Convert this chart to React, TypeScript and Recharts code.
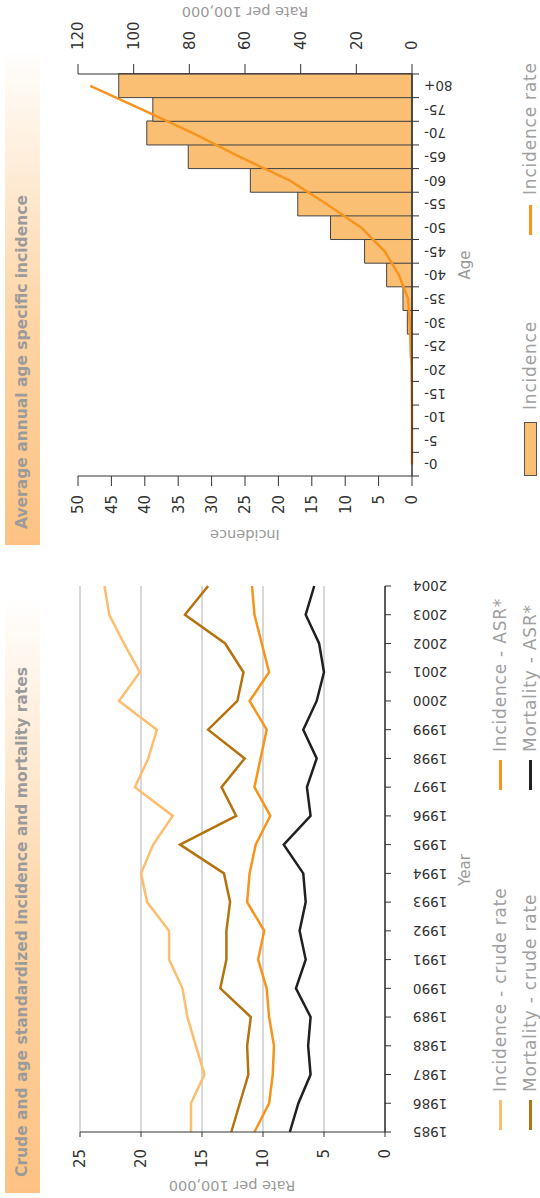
import React from 'react';
import { LineChart, Line, XAxis, YAxis, CartesianGrid, ComposedChart, Bar } from 'recharts';

const years = ['1985','1986','1987','1988','1989','1990','1991','1992','1993','1994','1995','1996','1997','1998','1999','2000','2001','2002','2003','2004'];
const incidenceCrude = [15.9, 15.9, 14.8, 15.5, 16.2, 16.6, 17.7, 17.7, 19.5, 20.0, 19.0, 17.4, 20.5, 19.4, 18.7, 21.8, 20.1, 21.4, 22.6, 23.0];
const mortalityCrude = [12.6, 11.9, 11.2, 11.3, 11.0, 13.5, 13.0, 13.0, 12.7, 13.2, 16.8, 12.2, 13.4, 11.5, 14.5, 12.1, 11.6, 13.1, 16.4, 14.5];
const incidenceASR = [10.7, 9.5, 9.2, 9.1, 9.5, 9.7, 10.4, 9.9, 11.3, 11.1, 10.6, 9.4, 10.7, 10.2, 9.7, 11.1, 9.5, 10.1, 10.7, 10.9];
const mortalityASR = [7.8, 7.1, 6.1, 6.3, 6.1, 7.3, 6.5, 7.0, 6.5, 6.7, 8.3, 6.1, 6.4, 5.6, 6.7, 5.6, 5.0, 5.4, 6.5, 5.8];
const rateTicks = [0, 5, 10, 15, 20, 25];

const ages = ['0-','5-','10-','15-','20-','25-','30-','35-','40-','45-','50-','55-','60-','65-','70-','75-','80+'];
const ageIncidence = [0, 0, 0, 0.05, 0.1, 0.25, 0.7, 1.35, 3.8, 7.1, 12.2, 17.1, 24.2, 33.5, 39.7, 38.8, 43.9];
const ageRate = [0, 0, 0, 0.05, 0.1, 0.5, 0.8, 1.4, 4.7, 9.8, 18.2, 30.7, 44.0, 61.9, 78.7, 97.1, 115.6];
const incidenceTicks = [0, 5, 10, 15, 20, 25, 30, 35, 40, 45, 50];
const ageRateTicks = [0, 20, 40, 60, 80, 100, 120];

const C_IC = '#fdbd6e';
const C_MC = '#b4730f';
const C_IA = '#f7941d';
const C_MA = '#231f20';
const FONT = '"DejaVu Sans", sans-serif';
const TICK_COLOR = '#333';
const LABEL_COLOR = '#9a9a9a';

const AGE_PLOT_W = 402;

const YearTick = (props: any) => {
  const { x, y, payload } = props;
  return (
    <text x={x} y={y} transform={`rotate(-90, ${x}, ${y})`} textAnchor="end" dy="0.35em" fontSize={13.5} fill={TICK_COLOR} fontFamily={FONT}>
      {payload.value}
    </text>
  );
};

const AgeTick = (props: any) => {
  const { x, y, payload, index } = props;
  const bw = AGE_PLOT_W / ages.length;
  return (
    <g>
      <line x1={x - bw / 2} y1={y} x2={x - bw / 2} y2={y + 7} stroke="#333" strokeWidth={1} />
      {index === ages.length - 1 && <line x1={x + bw / 2} y1={y} x2={x + bw / 2} y2={y + 7} stroke="#333" strokeWidth={1} />}
      <text x={x} y={y + 12} transform={`rotate(-90, ${x}, ${y + 12})`} textAnchor="end" dy="0.35em" fontSize={13.5} fill={TICK_COLOR} fontFamily={FONT}>
        {payload.value}
      </text>
    </g>
  );
};

const titleStyle = (left: number, width: number): React.CSSProperties => ({
  position: 'absolute', left, top: 5, width, height: 35,
  background: 'linear-gradient(to right, #fdc283 0%, #fed4a4 45%, #ffffff 100%)',
  color: '#9b9b9b', fontWeight: 'bold', fontSize: 15.5, lineHeight: '35px',
  fontFamily: FONT, whiteSpace: 'nowrap', boxSizing: 'border-box',
});

const legendText: React.CSSProperties = { position: 'absolute', fontSize: 17, letterSpacing: 0.8, color: '#a0a0a0', fontFamily: FONT, whiteSpace: 'nowrap', lineHeight: '18px' };

export default function App() {
  const trendData = years.map((y, i) => ({ year: y, ic: incidenceCrude[i], mc: mortalityCrude[i], ia: incidenceASR[i], ma: mortalityASR[i] }));
  const ageData = ages.map((a, i) => ({ age: a, incidence: ageIncidence[i], rate: ageRate[i] }));

  return (
    <div style={{ position: 'fixed', left: 0, top: 0, width: 540, height: 1198, overflow: 'hidden', background: '#fff' }}>
      <div style={{ position: 'absolute', left: 0, top: 0, width: 1198, height: 540, transformOrigin: '0 0', transform: 'translate(0px, 1198px) rotate(-90deg)', fontFamily: FONT }}>
        {/* Titles */}
        <div style={{ ...titleStyle(5, 595), paddingLeft: 16 }}>Crude and age standardized incidence and mortality rates</div>
        <div style={{ ...titleStyle(653, 495), paddingLeft: 16 }}>Average annual age specific incidence</div>

        {/* Left chart */}
        <div style={{ position: 'absolute', left: 0, top: 0 }}>
          <LineChart width={640} height={460} data={trendData} margin={{ top: 80, right: 28, bottom: 15, left: 0 }}>
            <CartesianGrid vertical={false} stroke="#b0b0b0" strokeWidth={1} />
            <XAxis dataKey="year" interval={0} tickSize={6} tickMargin={22} tick={<YearTick />} height={60} axisLine={{ stroke: '#333', strokeWidth: 1.5 }} tickLine={{ stroke: '#333' }} />
            <XAxis xAxisId="top" dataKey="year" orientation="top" height={0} tick={false} tickLine={false} axisLine={{ stroke: '#333', strokeWidth: 1 }} />
            <YAxis domain={[0, 25]} ticks={rateTicks} width={66} tickSize={5} tickMargin={12} interval={0} tick={{ fontSize: 15, fill: TICK_COLOR, fontFamily: FONT }} axisLine={{ stroke: '#333', strokeWidth: 1 }} tickLine={{ stroke: '#333' }} />
            <YAxis yAxisId="r" orientation="right" domain={[0, 25]} width={0} tick={false} tickLine={false} axisLine={{ stroke: '#333', strokeWidth: 1 }} />
            <Line dataKey="ic" type="linear" stroke={C_IC} strokeWidth={2.5} dot={false} isAnimationActive={false} />
            <Line dataKey="mc" type="linear" stroke={C_MC} strokeWidth={2.5} dot={false} isAnimationActive={false} />
            <Line dataKey="ia" type="linear" stroke={C_IA} strokeWidth={2.5} dot={false} isAnimationActive={false} />
            <Line dataKey="ma" type="linear" stroke={C_MA} strokeWidth={2.5} dot={false} isAnimationActive={false} />
          </LineChart>
        </div>

        {/* Left axis labels */}
        <div style={{ position: 'absolute', left: 12, top: 232, transform: 'translate(-50%, -50%) rotate(-90deg)', fontSize: 14.5, color: LABEL_COLOR, whiteSpace: 'nowrap' }}>Rate per 100,000</div>
        <div style={{ position: 'absolute', left: 328, top: 465, transform: 'translate(-50%, -50%)', fontSize: 15, color: LABEL_COLOR }}>Year</div>

        {/* Left legend */}
        <div style={{ position: 'absolute', left: 68, top: 499, width: 30, height: 3, background: C_IC }} />
        <div style={{ ...legendText, left: 106, top: 491 }}>Incidence - crude rate</div>
        <div style={{ position: 'absolute', left: 68, top: 529, width: 30, height: 3, background: C_MC }} />
        <div style={{ ...legendText, left: 106, top: 521 }}>Mortality - crude rate</div>
        <div style={{ position: 'absolute', left: 408, top: 499, width: 30, height: 3, background: C_IA }} />
        <div style={{ ...legendText, left: 446, top: 491 }}>Incidence - ASR*</div>
        <div style={{ position: 'absolute', left: 408, top: 529, width: 30, height: 3, background: C_MA }} />
        <div style={{ ...legendText, left: 446, top: 521 }}>Mortality - ASR*</div>

        {/* Right chart */}
        <div style={{ position: 'absolute', left: 640, top: 0 }}>
          <ComposedChart width={558} height={540} data={ageData} barCategoryGap={0} margin={{ top: 78, right: 24, bottom: 68, left: 22 }}>
            <XAxis dataKey="age" interval={0} tickSize={0} tickMargin={0} tickLine={false} tick={<AgeTick />} height={60} axisLine={{ stroke: '#333', strokeWidth: 1.5 }} />
            <XAxis xAxisId="top" dataKey="age" orientation="top" height={0} tick={false} tickLine={false} axisLine={{ stroke: '#333', strokeWidth: 1 }} />
            <YAxis yAxisId="l" domain={[0, 50]} ticks={incidenceTicks} interval={0} width={60} tickSize={10} tickMargin={9} tick={{ fontSize: 15, fill: TICK_COLOR, fontFamily: FONT }} axisLine={{ stroke: '#333', strokeWidth: 1 }} tickLine={{ stroke: '#333' }} />
            <YAxis yAxisId="r" orientation="right" domain={[0, 120]} ticks={ageRateTicks} interval={0} width={50} tickSize={10} tickMargin={14} tick={{ fontSize: 15, fill: TICK_COLOR, fontFamily: FONT }} axisLine={{ stroke: '#333', strokeWidth: 1 }} tickLine={{ stroke: '#333' }} />
            <Bar yAxisId="l" dataKey="incidence" fill="#fbbf74" stroke="#444" strokeWidth={1} isAnimationActive={false} />
            <Line yAxisId="r" dataKey="rate" type="linear" stroke={C_IA} strokeWidth={2.5} dot={false} isAnimationActive={false} />
          </ComposedChart>
        </div>

        {/* Right axis labels */}
        <div style={{ position: 'absolute', left: 663, top: 245, transform: 'translate(-50%, -50%) rotate(-90deg)', fontSize: 14.5, color: LABEL_COLOR, whiteSpace: 'nowrap' }}>Incidence</div>
        <div style={{ position: 'absolute', left: 1186, top: 245, transform: 'translate(-50%, -50%) rotate(-90deg)', fontSize: 14.5, color: LABEL_COLOR, whiteSpace: 'nowrap' }}>Rate per 100,000</div>
        <div style={{ position: 'absolute', left: 933, top: 465, transform: 'translate(-50%, -50%)', fontSize: 15, color: LABEL_COLOR }}>Age</div>

        {/* Right legend */}
        <div style={{ position: 'absolute', left: 722, top: 524, width: 54, height: 13, background: '#fbbf74', border: '1px solid #555', boxSizing: 'border-box' }} />
        <div style={{ ...legendText, left: 788, top: 521 }}>Incidence</div>
        <div style={{ position: 'absolute', left: 963, top: 529, width: 30, height: 3, background: C_IA }} />
        <div style={{ ...legendText, left: 1003, top: 521 }}>Incidence rate</div>
      </div>
    </div>
  );
}
